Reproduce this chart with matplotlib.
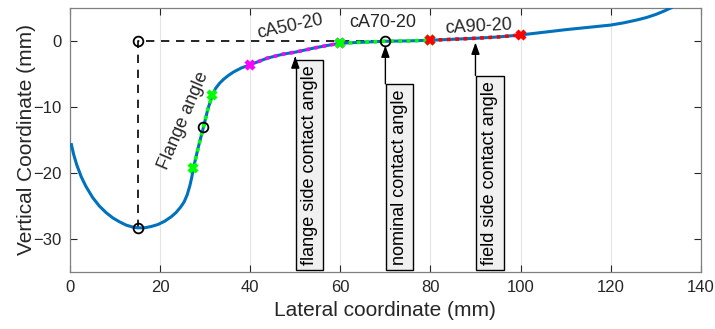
import numpy as np
import matplotlib
matplotlib.use('Agg')
import matplotlib.pyplot as plt

plt.rcParams['font.family'] = ['Liberation Sans', 'DejaVu Sans']

# Rail head profile (lateral, vertical) in mm
perfil_x = [0.3, 0.8, 1.5, 2.5, 3.5, 5.0, 6.5, 8.0, 9.5, 11.0, 12.5, 14.0,
            15.0, 16.5, 18.0, 19.5, 21.0, 22.5, 23.5, 24.5, 25.3, 26.0, 26.6,
            27.0, 27.4, 28.5, 29.6, 30.6, 31.6, 32.3, 33.2, 34.1, 35.2, 36.3,
            38.0, 40.0, 43.8, 47.3, 50.0, 54.0, 57.0, 60.0, 65.0, 70.0, 75.0,
            80.0, 85.0, 90.0, 95.0, 100.0, 105.0, 110.0, 115.0, 120.0, 123.0,
            126.0, 128.0, 130.0, 131.8, 133.4]
perfil_y = [-15.7, -17.2, -18.8, -20.6, -22.0, -23.7, -25.0, -26.0, -26.8,
            -27.4, -27.9, -28.2, -28.3, -28.3, -28.1, -27.8, -27.3, -26.6,
            -26.0, -25.2, -24.4, -23.3, -21.9, -20.7, -19.2, -16.0, -13.1,
            -10.3, -8.2, -7.2, -6.4, -5.8, -5.2, -4.7, -4.1, -3.6, -2.6, -2.0,
            -1.7, -1.1, -0.7, -0.35, -0.2, -0.05, 0.0, 0.1, 0.25, 0.4, 0.6,
            0.9, 1.3, 1.7, 2.05, 2.4, 2.75, 3.2, 3.55, 4.0, 4.5, 5.0]

# Reference points of the flange geometry
ref_x = [15.0, 15.0, 29.6, 70.0]
ref_y = [0.0, -28.3, -13.1, 0.0]

# Contact zones: (start, end, colour)
zonas = [(27.4, 31.6, '#00ff00'),
         (40.0, 60.0, '#ff00ff'),
         (60.0, 80.0, '#00ff00'),
         (80.0, 100.0, '#ff0000')]

# Contact angle arrows: lateral position and label
setas_x = [50.0, 70.0, 90.0]
setas_txt = ['flange side contact angle', 'nominal contact angle',
             'field side contact angle']

azul = '#0072bd'
cinza = '#262626'

px = np.array(perfil_x)
py = np.array(perfil_y)

fig = plt.figure(figsize=(7.15, 3.29), dpi=100)
ax = fig.add_axes([0.098, 0.173, 0.882, 0.803])

ax.plot(px, py, color=azul, lw=2.2, zorder=3, solid_joinstyle='round')

# Dashed construction lines
ax.plot([15, 15, 70], [-28.3, 0, 0], color='k', lw=1.2, ls=(0, (5, 4)), zorder=2)

for x0, x1, cor in zonas:
    m = (px >= x0) & (px <= x1)
    ax.plot(px[m], py[m], ls=(0, (1, 1.3)), color=cor, lw=2.6, zorder=4)
    ax.plot([px[m][0], px[m][-1]], [py[m][0], py[m][-1]], ls='none',
            marker='x', ms=6, mew=3.2, color=cor, zorder=5)

ax.plot(ref_x, ref_y, ls='none', marker='o', ms=7, mfc='none', mec='k',
        mew=1.3, zorder=6)

# Zone labels
ax.text(48.8, 2.1, 'cA50-20', fontsize=13, rotation=12, ha='center',
        va='center', color=cinza)
ax.text(69.4, 2.8, 'cA70-20', fontsize=13, ha='center', va='center', color=cinza)
ax.text(90.8, 2.1, 'cA90-20', fontsize=13, rotation=3, ha='center',
        va='center', color=cinza)
ax.text(25.1, -12.0, 'Flange angle', fontsize=13, rotation=67, ha='center',
        va='center', color=cinza)

ax.set_xlim(0, 140)
ax.set_ylim(-35, 5)
ax.set_xticks(np.arange(0, 141, 20))
ax.set_yticks([-30, -20, -10, 0])
ax.tick_params(direction='in', top=True, right=True, length=5, width=0.8,
               labelsize=12, colors=cinza, labelcolor=cinza, pad=6)
for s in ax.spines.values():
    s.set_color('#808080')
    s.set_linewidth(0.9)
ax.grid(axis='x', color='#e4e4e4', lw=0.8)
ax.set_axisbelow(True)
ax.set_xlabel('Lateral coordinate (mm)', fontsize=15, color=cinza, labelpad=4)
ax.set_ylabel('Vertical Coordinate (mm)', fontsize=15, color=cinza, labelpad=-2)

# Vertical text boxes along the bottom, then arrows from box top to the curve
caixas = []
for x, txt in zip(setas_x, setas_txt):
    t = ax.text(x + 1.25, -33.9, txt, fontsize=13, rotation=90, ha='left',
                va='bottom', color='k', clip_on=True, zorder=7,
                bbox=dict(boxstyle='square,pad=0.3', fc='#f0f0f0', ec='k', lw=1.0))
    caixas.append(t)

fig.canvas.draw()
inv = ax.transData.inverted()
for x, t in zip(setas_x, caixas):
    bb = t.get_bbox_patch().get_window_extent()
    topo = inv.transform((bb.x0, bb.y1))[1]
    ax.annotate('', xy=(x, np.interp(x, px, py)), xytext=(x, topo),
                arrowprops=dict(arrowstyle='-|>,head_length=0.7,head_width=0.25',
                                color='k', lw=1.0, shrinkA=0, shrinkB=3),
                zorder=8)

fig.savefig('out.png', dpi=100)
